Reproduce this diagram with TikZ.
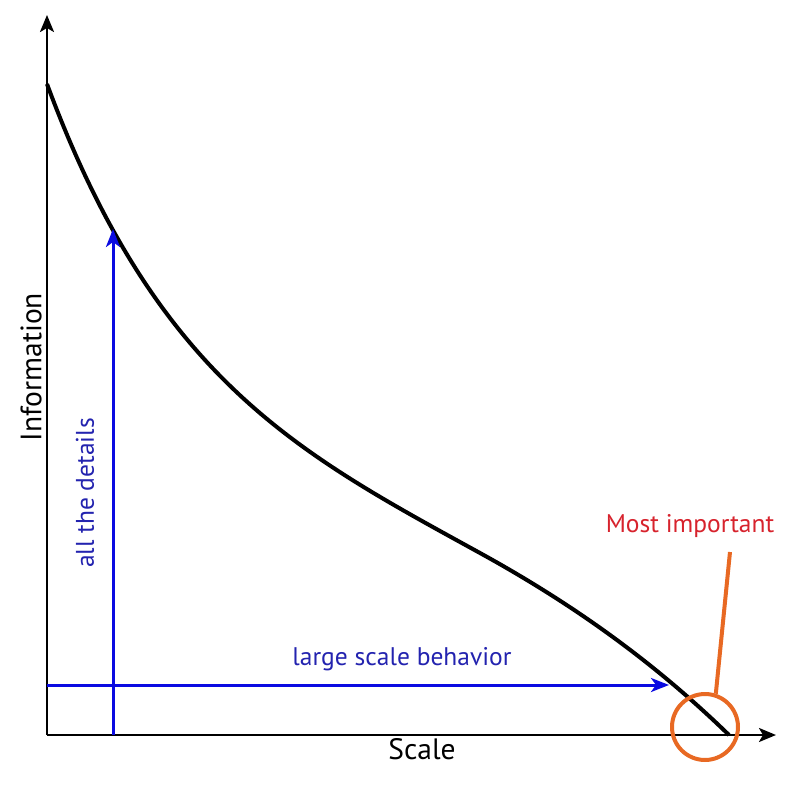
\documentclass[tikz,border=0pt]{standalone}
\usepackage{fontspec}
\setmainfont{PT Sans}
\usetikzlibrary{arrows.meta}
\definecolor{arrowblue}{RGB}{10,10,225}
\definecolor{textblue}{RGB}{35,35,175}
\definecolor{textred}{RGB}{215,35,45}
\definecolor{circorange}{RGB}{232,105,35}
\tikzset{
  axis/.style={line width=2.5pt,-{Stealth[length=17pt,width=14pt,inset=4pt]}},
  bluearrow/.style={draw=arrowblue,line width=3pt,-{Stealth[length=18pt,width=14pt,inset=5pt]}},
  curveline/.style={line width=4pt},
  lbl/.style={inner sep=0pt,font=\fontsize{25.5}{28}\selectfont},
  axlbl/.style={inner sep=0pt,font=\fontsize{29.5}{32}\selectfont},
}
\begin{document}
\begin{tikzpicture}[x=1pt,y=-1pt]
\useasboundingbox (0,0) rectangle (807,785);
\coordinate (O) at (47,735);
\coordinate (ytip) at (47,15);
\coordinate (xtip) at (776,735);
\draw[axis] (O) -- (ytip);
\draw[axis] (O) -- (xtip);
% curve
\coordinate (c0) at (47,84);
\coordinate (c1) at (480,553);
\coordinate (c2) at (729,735);
\draw[curveline] (c0) .. controls (157,381) and (300,454) .. (c1)
  .. controls (580,608) and (659,667) .. (c2);
% blue arrows
\coordinate (vbot) at (113,735);
\coordinate (vtop) at (113,229);
\coordinate (hleft) at (47,685);
\coordinate (hright) at (669,685);
\draw[bluearrow] (vbot) -- (vtop);
\draw[bluearrow] (hleft) -- (hright);
% circle and pointer
\node[draw=circorange,line width=4pt,circle,minimum size=66pt,inner sep=0pt] (circ) at (705,727) {};
\coordinate (ptop) at (730,552);
\draw[circorange,line width=4pt] (ptop) -- (circ.72);
% labels
\node[axlbl,rotate=90] (info) at (31,367) {Information};
\node[axlbl] (scale) at (422,749) {Scale};
\node[lbl,rotate=90,text=textblue] (details) at (85,493) {all the details};
\node[lbl,text=textblue] (large) at (402,659) {large scale behavior};
\node[lbl,text=textred] (most) at (690,526) {Most important};
\end{tikzpicture}
\end{document}
